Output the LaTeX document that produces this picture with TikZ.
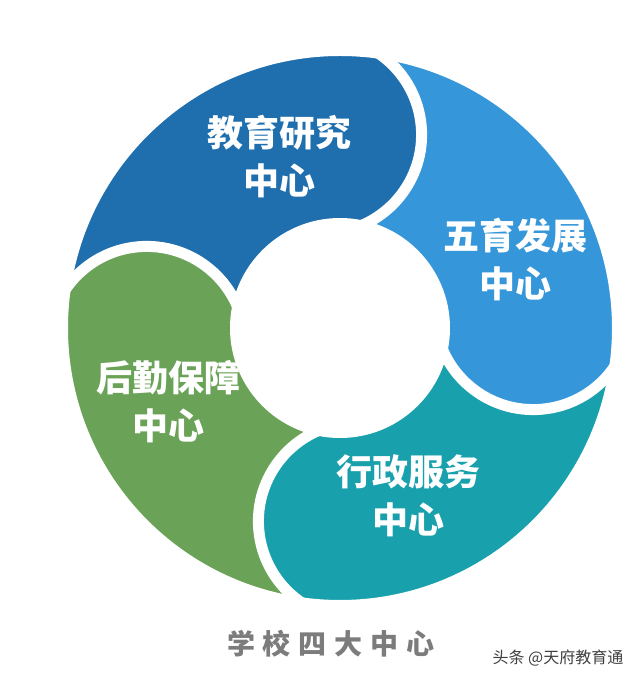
\documentclass[tikz,border=0pt]{standalone}
\usepackage{fontspec}
\newfontfamily\cjk{Noto Sans CJK SC}[BoldFont={Noto Sans CJK SC Black}]
\definecolor{dkblue}{HTML}{1F6FAE}
\definecolor{ltblue}{HTML}{3696DA}
\definecolor{tealc}{HTML}{18A1AC}
\definecolor{greenc}{HTML}{6AA357}
\definecolor{titlegray}{HTML}{7C7C7C}
\begin{document}
\begin{tikzpicture}[x=1pt,y=1pt,
  gapline/.style={draw=white,line width=11pt},
  lbl/.style={text=white,align=center,font=\cjk\bfseries\fontsize{36}{48}\selectfont}]
\useasboundingbox (0,0) rectangle (640,680);
\fill[white] (0,0) rectangle (640,680);
\coordinate (o) at (340,352);

% quarter wedges
\fill[dkblue] (o) -- ++(95:285) arc[start angle=95, end angle=185, radius=285] -- cycle;
\fill[ltblue] (o) -- ++(5:285) arc[start angle=5, end angle=95, radius=285] -- cycle;
\fill[tealc] (o) -- ++(-85:285) arc[start angle=-85, end angle=5, radius=285] -- cycle;
\fill[greenc] (o) -- ++(185:285) arc[start angle=185, end angle=275, radius=285] -- cycle;

% round heads
\fill[dkblue] ([shift={(95:194)}]o) ++(100:98.5) arc[start angle=100, end angle=-85, radius=98.5] -- cycle;
\draw[gapline] ([shift={(95:292.5)}]o) arc[start angle=95, end angle=-85, radius=98.5];
\fill[ltblue] ([shift={(5:194)}]o) ++(10:98.5) arc[start angle=10, end angle=-175, radius=98.5] -- cycle;
\draw[gapline] ([shift={(5:292.5)}]o) arc[start angle=5, end angle=-175, radius=98.5];
\fill[tealc] ([shift={(-85:194)}]o) ++(-80:98.5) arc[start angle=-80, end angle=-265, radius=98.5] -- cycle;
\draw[gapline] ([shift={(-85:292.5)}]o) arc[start angle=-85, end angle=-265, radius=98.5];
\fill[greenc] ([shift={(185:194)}]o) ++(190:98.5) arc[start angle=190, end angle=5, radius=98.5] -- cycle;
\draw[gapline] ([shift={(185:292.5)}]o) arc[start angle=185, end angle=5, radius=98.5];

% trim outside and hole
\fill[white, even odd rule] (0,0) rectangle (640,680) (o) circle[radius=272];
\fill[white] (o) circle[radius=110];

\node[lbl] (jy) at (279,523.5) {教育研究\\中心};
\node[lbl] (wy) at (515,420.5) {五育发展\\中心};
\node[lbl] (hq) at (168,278) {后勤保障\\中心};
\node[lbl] (xz) at (408,184.5) {行政服务\\中心};

\node[text=titlegray, font=\cjk\bfseries\fontsize{28}{30}\selectfont] (title) at (331,36)
  {学\hspace{8pt}校\hspace{8pt}四\hspace{8pt}大\hspace{8pt}中\hspace{8pt}心};
\node[text=black!75, font=\cjk\fontsize{16}{18}\selectfont] (mark) at (558,22) {头条 @天府教育通};
\end{tikzpicture}
\end{document}
